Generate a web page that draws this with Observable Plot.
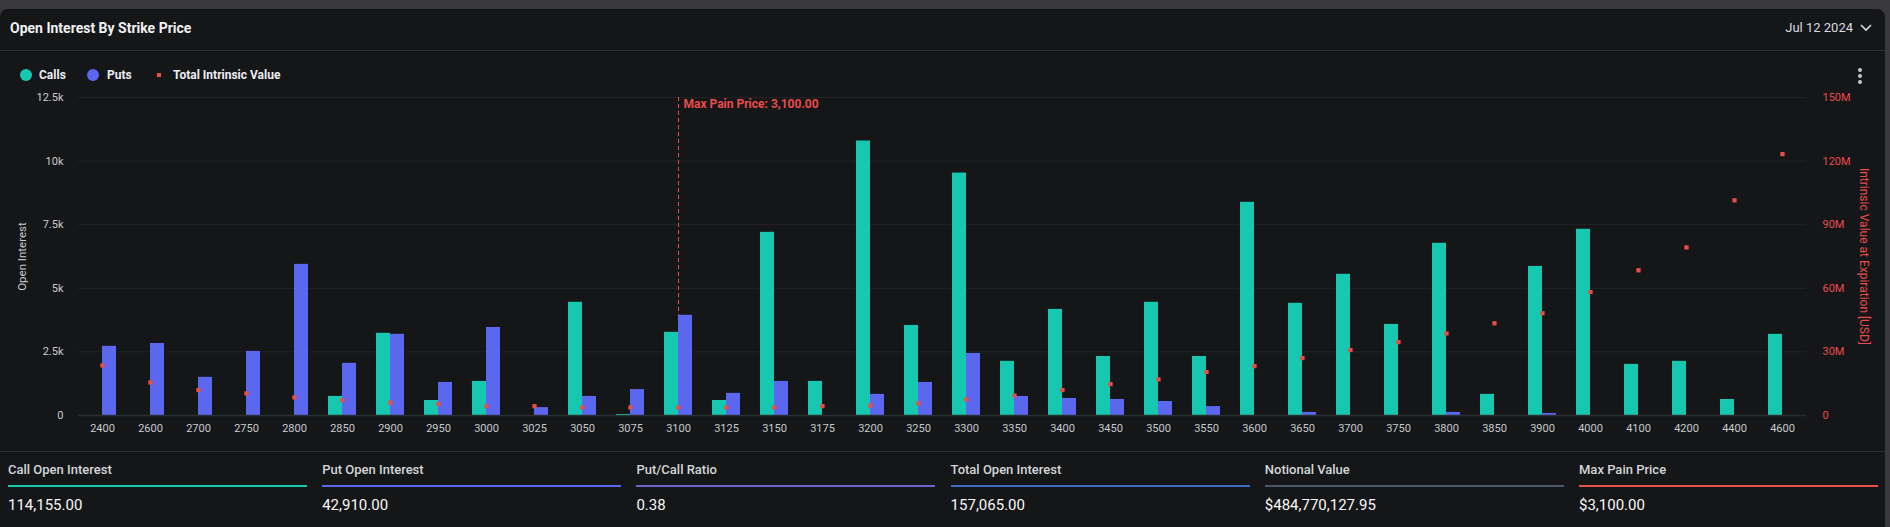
<!DOCTYPE html>
<html><head><meta charset="utf-8">
<script src="https://cdn.jsdelivr.net/npm/d3@7"></script>
<script src="https://cdn.jsdelivr.net/npm/@observablehq/plot@0.6"></script>
<style>
html,body{margin:0;padding:0;background:#39393b;width:1890px;height:527px;overflow:hidden;font-family:Roboto,"Noto Sans",sans-serif;}
.abs{position:absolute;}
#card{left:0;top:9px;width:1885px;height:540px;background:#151618;border-radius:8px 8px 0 0;}
#title{left:10px;top:19px;height:18px;line-height:18px;font-size:14px;font-weight:700;color:#f0f1f3;}
#date{right:37px;top:19px;height:18px;line-height:18px;font-size:13px;color:#d8dbe0;}
.hr{left:0;width:1885px;height:1px;background:#2d2e32;}
.lg{top:69px;height:12px;line-height:12px;font-size:12px;font-weight:700;color:#eceef1;}
.kd{width:4px;height:4px;border-radius:2px;background:#c6c9ce;left:1858px;}
.st{width:299px;}
.st .lab{position:absolute;top:0;height:18px;line-height:18px;font-size:13px;font-weight:500;color:#d3d6da;}
.st .bar{position:absolute;top:24px;width:299px;height:2px;}
.st .val{position:absolute;top:34px;height:20px;line-height:20px;font-size:15px;color:#f7f8f9;}
</style></head>
<body>
<div id="card" class="abs"></div>
<div id="title" class="abs">Open Interest By Strike Price</div>
<div id="date" class="abs">Jul 12 2024</div>
<svg class="abs" style="left:1860px;top:23px" width="12" height="10"><path d="M1 2 L6 7 L11 2" fill="none" stroke="#d8dbe0" stroke-width="1.6"/></svg>
<div class="abs hr" style="top:50px"></div>
<div class="abs" style="left:20px;top:69px;width:12px;height:12px;border-radius:6px;background:#16c8b0"></div>
<div class="abs lg" style="left:39px">Calls</div>
<div class="abs" style="left:87px;top:69px;width:12px;height:12px;border-radius:6px;background:#5b67ef"></div>
<div class="abs lg" style="left:107px">Puts</div>
<div class="abs" style="left:157px;top:73px;width:4px;height:4px;background:#e84c4c"></div>
<div class="abs lg" style="left:173px">Total Intrinsic Value</div>
<div class="abs kd" style="top:68px"></div>
<div class="abs kd" style="top:74px"></div>
<div class="abs kd" style="top:80px"></div>
<div id="chart" class="abs" style="left:0;top:85px"></div>
<div class="abs hr" style="top:451px"></div>
<div id="stats"></div>
<script>
const strikes = [2400,2600,2700,2750,2800,2850,2900,2950,3000,3025,3050,3075,3100,3125,3150,3175,3200,3250,3300,3350,3400,3450,3500,3550,3600,3650,3700,3750,3800,3850,3900,4000,4100,4200,4400,4600];
const callsOI = [0,0,0,0,0,750,3230,590,1340,0,4450,40,3270,590,7200,1340,10790,3540,9530,2130,4170,2320,4450,2320,8380,4410,5550,3580,6770,830,5860,7320,2010,2130,630,3190];
const putsOI  = [2720,2830,1500,2520,5940,2050,3190,1300,3460,310,750,1020,3940,870,1340,0,830,1300,2440,750,670,630,550,350,0,120,0,0,120,0,80,0,0,0,0,0];
const intrinsicM = [23.6,15.6,12.0,10.4,8.5,7.2,6.1,5.4,4.4,4.4,3.8,3.8,3.8,3.8,3.8,4.4,4.7,5.7,7.6,9.4,12.0,14.8,17.0,20.5,23.3,27.1,30.9,34.6,38.7,43.5,48.2,58.2,68.5,79.3,101.5,123.3];
const leftTicks = [0,2500,5000,7500,10000,12500];
const leftTickLabels = ["0","2.5k","5k","7.5k","10k","12.5k"];
const rightTickLabels = ["0","30M","60M","90M","120M","150M"];
const rightMaxM = 150;
const maxPain = 3100;
const statLabels = ["Call Open Interest","Put Open Interest","Put/Call Ratio","Total Open Interest","Notional Value","Max Pain Price"];
const statValues = ["114,155.00","42,910.00","0.38","157,065.00","$484,770,127.95","$3,100.00"];
const statColors = ["#16c8b0","#5b67ef","#6c63c9","#3d6dc2","#4b5766","#e8514a"];

const CALL = "#16c8b0", PUT = "#5b67ef", RED = "#e84c4c";
const yMax = leftTicks[leftTicks.length-1];
const k = yMax / rightMaxM;

const rows = strikes.flatMap((s,i)=>[{strike:s,type:"Calls",oi:callsOI[i]},{strike:s,type:"Puts",oi:putsOI[i]}]);
const iv = strikes.map((s,i)=>({strike:s, v:intrinsicM[i]}));

const chart = Plot.plot({
  width: 1885, height: 360,
  marginTop: 12, marginBottom: 30, marginLeft: 76, marginRight: 78,
  style: {background:"transparent", fontFamily:"Roboto, sans-serif", fontSize:"11px", color:"#c9ccd1", overflow:"visible"},
  fx: {domain: strikes, padding: 0, label: null, axis: null},
  x: {domain: ["Calls","Puts"], paddingInner: 0, paddingOuter: 0.66, axis: null},
  y: {domain: [0, yMax], label: null, axis: null},
  color: {domain: ["Calls","Puts"], range: [CALL, PUT]},
  marks: [
    Plot.gridY(leftTicks, {stroke:"#222327", strokeOpacity:1, strokeWidth:1}),
    Plot.ruleX([maxPain], {fx: d=>d, x: null, stroke: RED, strokeWidth:1, strokeDasharray:"4,3"}),
    Plot.barY(rows, {fx:"strike", x:"type", y:"oi", fill:"type"}),
    Plot.ruleY([0], {stroke:"#2c2e32", strokeWidth:1.5}),
    Plot.dot(iv, {fx:"strike", y: d=>d.v*k, symbol:"square", r:2.4, fill:RED, stroke:null}),
    Plot.text([maxPain], {fx: d=>d, y: yMax, text: d=>"Max Pain Price: " + d3.format(",.2f")(d), textAnchor:"start", dx:5, dy:7, fill:RED, fontWeight:700, fontSize:12}),
    Plot.axisY(leftTicks, {anchor:"left", tickSize:0, tickPadding:15, tickFormat: d=>leftTickLabels[leftTicks.indexOf(d)], fill:"#c9ccd1", label:null}),
    Plot.axisY(leftTicks, {anchor:"right", tickSize:0, tickPadding:16, tickFormat: d=>rightTickLabels[leftTicks.indexOf(d)], fill:RED, label:null}),
    Plot.text(["Open Interest"], {fx: ()=>strikes[0], frameAnchor:"left", textAnchor:"middle", rotate:-90, dx:-56, fill:"#c9ccd1", fontSize:11.5}),
    Plot.text(["Intrinsic Value at Expiration [USD]"], {fx: ()=>strikes[strikes.length-1], frameAnchor:"right", textAnchor:"middle", rotate:90, dx:57, fill:RED, fontSize:12}),
    Plot.axisFx({anchor:"bottom", tickSize:0, tickPadding:9, tickFormat: d=>String(d), fill:"#c9ccd1", label:null, fontSize:11})
  ]
});
document.getElementById("chart").appendChild(chart);

const stats = document.getElementById("stats");
statLabels.forEach((lab,i)=>{
  const d = document.createElement("div");
  d.className = "abs st";
  d.style.left = (8 + i*314.2) + "px";
  d.style.top = "461px";
  d.innerHTML = `<div class="lab">${lab}</div><div class="bar" style="background:${statColors[i]}"></div><div class="val">${statValues[i]}</div>`;
  stats.appendChild(d);
});
</script>
</body></html>
